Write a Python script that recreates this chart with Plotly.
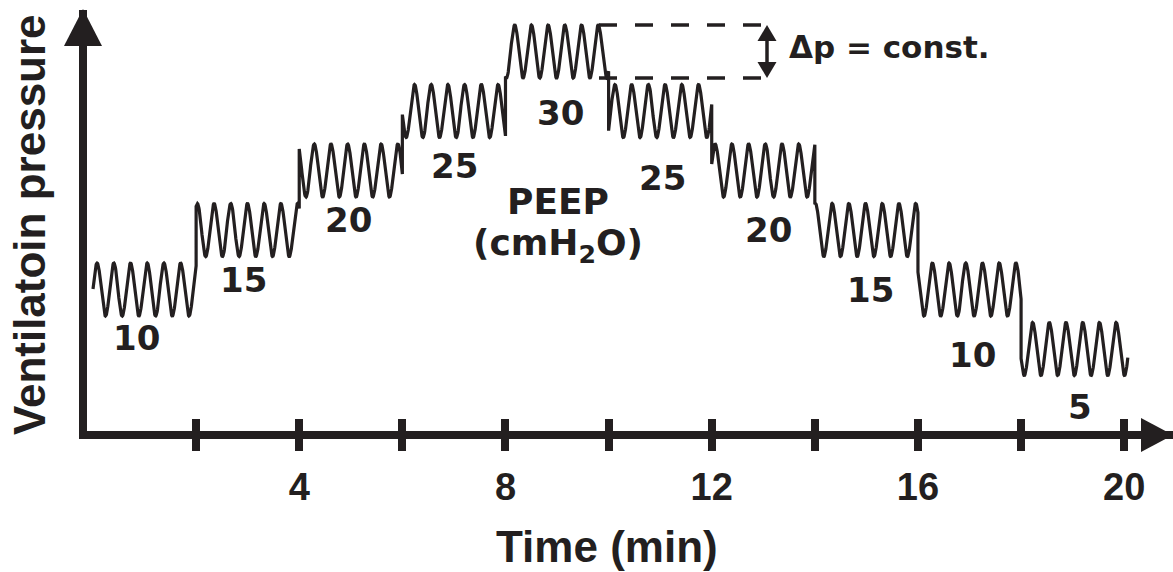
import numpy as np
import plotly.graph_objects as go

# ---------------- data ----------------
seg_start = [0, 2, 4, 6, 8, 10, 12, 14, 16, 18]          # min
peep = [10, 15, 20, 25, 30, 25, 20, 15, 10, 5]            # cmH2O
wave_end = 20.07                                          # min
delta_p = 4.45                                            # cmH2O, constant swing
breath_period = 0.324                                     # min
first_peak = 0.08                                         # min
level_text = ["10", "15", "20", "25", "30", "25", "20", "15", "10", "5"]
major_ticks = [4, 8, 12, 16, 20]
major_text = ["4", "8", "12", "16", "20"]
minor_ticks = [2, 6, 10, 14, 18]
all_ticks = [2, 4, 6, 8, 10, 12, 14, 16, 18, 20]
x_title = "Time (min)"
y_title = "Ventilatoin pressure"

# ---------------- layout constants ----------------
W, H = 1173, 572
ML, MR, MT, MB = 87, 0, 10, 141
PW, PH = W - ML - MR, H - MT - MB
INK = "#231f20"
PX_PER_MIN = 51.56
T0_PX = 93.0
PX_PER_UNIT = 11.9
P10_PX = 316.0

def t_of(px):
    return (px - T0_PX) / PX_PER_MIN

def p_of(py):
    return 10 + (P10_PX - py) / PX_PER_UNIT

def xp(px):
    return (px - ML) / PW

def yp(py):
    return (MT + PH - py) / PH

xrange_ = [t_of(ML), t_of(W - MR)]
yrange_ = [p_of(MT + PH), p_of(MT)]

# level label positions (pixels)
label_px = [(136, 338), (243, 280), (348, 220), (454, 166), (560, 113),
            (662, 178), (768, 230), (870, 290), (972, 355), (1080, 407)]

# ---------------- waveform ----------------
ts, ps = [], []
for i, lvl in enumerate(peep):
    a = seg_start[i]
    b = seg_start[i + 1] if i + 1 < len(seg_start) else wave_end
    t = np.linspace(a, b, 300)
    p = lvl + delta_p * (1 + np.cos(2 * np.pi * (t - first_peak) / breath_period)) / 2
    ts.extend(t.tolist())
    ps.extend(p.tolist())

fig = go.Figure()
fig.add_trace(go.Scatter(x=ts, y=ps, mode="lines",
                         line=dict(color=INK, width=3.2), hoverinfo="skip",
                         showlegend=False))
# invisible trace for second x axis (inside tick halves)
fig.add_trace(go.Scatter(x=[xrange_[0]], y=[yrange_[0]], xaxis="x2", mode="markers",
                         marker=dict(opacity=0), showlegend=False, hoverinfo="skip"))

# dashed constant-Δp box
t_box0 = t_of(599)
t_box1 = t_of(765)
top_p = 30 + delta_p
for yy in (top_p, 30):
    fig.add_shape(type="line", xref="x", yref="y", x0=t_box0, x1=t_box1, y0=yy, y1=yy,
                  line=dict(color=INK, width=3.5, dash="18px,18px"))

# double arrow (shaft + two heads)
ax_px = 767
top_px = P10_PX - (top_p - 10) * PX_PER_UNIT
bot_px = P10_PX - (30 - 10) * PX_PER_UNIT
fig.add_shape(type="line", xref="x", yref="y", x0=t_of(ax_px), x1=t_of(ax_px),
              y0=p_of(top_px + 10), y1=p_of(bot_px - 10),
              line=dict(color=INK, width=3.5))
def dpath(points):
    pts = [f"{t_of(a):.5f},{p_of(b):.5f}" for a, b in points]
    return "M" + " L".join(pts) + " Z"
fig.add_shape(type="path", xref="x", yref="y",
              path=dpath([(ax_px, top_px), (ax_px - 9.5, top_px + 16), (ax_px + 9.5, top_px + 16)]),
              fillcolor=INK, line=dict(color=INK, width=0))
fig.add_shape(type="path", xref="x", yref="y",
              path=dpath([(ax_px, bot_px), (ax_px - 9.5, bot_px - 16), (ax_px + 9.5, bot_px - 16)]),
              fillcolor=INK, line=dict(color=INK, width=0))

label_font = dict(family="DejaVu Sans", size=34, color=INK, weight="bold")
for txt, (px, py) in zip(level_text, label_px):
    fig.add_annotation(x=t_of(px), y=p_of(py), xref="x", yref="y", text=txt,
                       showarrow=False, font=label_font, xanchor="center", yanchor="middle")

peep_font = dict(family="DejaVu Sans", size=36, color=INK, weight="bold")
fig.add_annotation(x=t_of(558), y=p_of(201), xref="x", yref="y", text="PEEP",
                   showarrow=False, font=peep_font, borderpad=0)
fig.add_annotation(x=t_of(558), y=p_of(245), xref="x", yref="y", text="(cmH<sub>2</sub>O)",
                   showarrow=False, font=peep_font, borderpad=0)
fig.add_annotation(x=t_of(889), y=p_of(47), xref="x", yref="y",
                   text="Δp = const.",
                   showarrow=False, font=dict(family="DejaVu Sans", size=31, color=INK, weight="bold"))

# axis titles (placed at the reference position)
title_font = dict(family="Liberation Sans", size=44, color=INK, weight="bold")
fig.add_annotation(x=xp(607), y=yp(546), xref="paper", yref="paper", text=x_title,
                   showarrow=False, font=title_font, xanchor="center", yanchor="middle")
fig.add_annotation(x=xp(30), y=yp(225), xref="paper", yref="paper",
                   text=y_title, textangle=-90,
                   showarrow=False, font=title_font, xanchor="center", yanchor="middle")

# arrowheads on axes
def tri(points):
    pts = [f"{xp(a):.5f},{yp(b):.5f}" for a, b in points]
    return "M" + " L".join(pts) + " Z"

fig.add_shape(type="path", xref="paper", yref="paper",
              path=tri([(83, 9), (64, 46), (102, 46)]),
              fillcolor=INK, line=dict(color=INK, width=0))
fig.add_shape(type="path", xref="paper", yref="paper",
              path=tri([(1173, 435), (1141, 418), (1141, 452)]),
              fillcolor=INK, line=dict(color=INK, width=0))

fig.update_layout(
    width=W, height=H,
    margin=dict(l=ML, r=MR, t=MT, b=MB),
    paper_bgcolor="white", plot_bgcolor="white",
    xaxis=dict(range=xrange_, showgrid=False, zeroline=False, showline=True,
               linewidth=8, linecolor=INK, tickvals=major_ticks, ticktext=major_text,
               ticks="outside", ticklen=12, tickwidth=8, tickcolor=INK,
               minor=dict(tickvals=minor_ticks, ticks="outside", ticklen=12,
                          tickwidth=8, tickcolor=INK, showgrid=False),
               tickfont=dict(family="Liberation Sans", size=38, color=INK, weight="bold"),
               ticklabelstandoff=3),
    xaxis2=dict(range=xrange_, overlaying="x", side="bottom", anchor="y",
                showgrid=False, zeroline=False, showline=True, linewidth=8, linecolor=INK,
                tickvals=all_ticks, ticks="inside", ticklen=12, tickwidth=8, tickcolor=INK,
                showticklabels=False),
    yaxis=dict(range=yrange_, showgrid=False, zeroline=False, showline=True,
               linewidth=8, linecolor=INK, ticks="", showticklabels=False),
    showlegend=False,
)

fig.write_html("out.html")
